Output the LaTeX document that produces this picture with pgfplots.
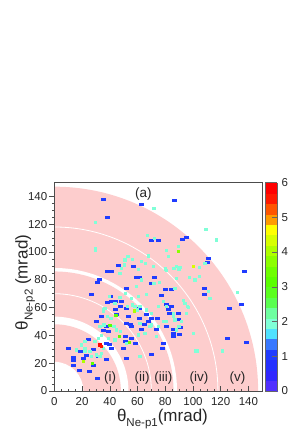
\documentclass[border=0pt]{standalone}
\usepackage{fontspec}
\setmainfont{Liberation Sans}
\usepackage{pgfplots}
\pgfplotsset{compat=1.18}
\definecolor{ringpink}{RGB}{253,205,205}
\pgfplotsset{colormap={rootpal}{
rgb255=(80,48,255) rgb255=(48,40,255) rgb255=(36,48,255) rgb255=(32,60,255)
rgb255=(56,120,255) rgb255=(80,225,255) rgb255=(128,255,215) rgb255=(110,255,160)
rgb255=(90,255,80) rgb255=(90,255,30) rgb255=(90,255,0) rgb255=(110,255,0)
rgb255=(140,255,0) rgb255=(175,255,0) rgb255=(215,255,0) rgb255=(255,255,0)
rgb255=(255,155,0) rgb255=(255,85,0) rgb255=(255,25,0) rgb255=(255,0,0)}}
\begin{document}
\begin{tikzpicture}
\useasboundingbox (-54.3pt,-41pt) rectangle (251.7pt,391pt);
\begin{axis}[
 at={(0,0)}, anchor=south west,
 scale only axis, width=208pt, height=208.5pt,
 xmin=0, xmax=150, ymin=0, ymax=150,
 xtick={0,20,...,140}, ytick={0,20,...,140},
 minor tick num=3,
 tick align=inside, tick pos=left,
 major tick length=5pt, minor tick length=2.5pt,
 every major y tick/.append style={xshift=-5pt},
 every minor y tick/.append style={xshift=-2.5pt},
 axis line style={black!70, line width=0.6pt},
 tick style={black!70, line width=0.5pt},
 ticklabel style={font=\fontsize{11.5}{13}\selectfont, text=black!85},
 /pgf/number format/assume math mode=true,
 yticklabel style={xshift=-3.5pt},
 xticklabel style={yshift=-3.3pt},
 xlabel={\fontsize{17}{20}\selectfont θ\raisebox{-5pt}{\fontsize{11.5}{13}\selectfont Ne-p1}(mrad)},
 ylabel={\fontsize{17}{20}\selectfont θ\raisebox{-5pt}{\fontsize{11.5}{13}\selectfont Ne-p2} (mrad)},
 xlabel style={at={(axis description cs:0.52,-0.088)}, anchor=north, inner sep=0pt, text=black!85},
 ylabel style={at={(axis description cs:-0.189,0.52)}, anchor=north, inner sep=0pt, text=black!85},
 axis on top,
 colorbar, colormap name=rootpal, colormap access=piecewise constant,
 point meta min=0, point meta max=6,
 colorbar style={
   at={(parent axis.south east)}, anchor=south west, xshift=-5.8pt,
   width=12pt,
   ytick={0,...,6}, minor tick num=0,
   ytick pos=right, yticklabel pos=right,
   tick align=inside, major tick length=5pt,
   axis line style={black!60}, tick style={black!60},
   yticklabel style={font=\fontsize{11.5}{13}\selectfont, xshift=1pt},
   /pgf/number format/assume math mode=true,
 },
 scatter/use mapped color={draw=mapped color, fill=mapped color},
]
\fill[ringpink] (axis cs:0,0) circle[radius=147];
\fill[white] (axis cs:0,0) circle[radius=88.5];
\fill[ringpink] (axis cs:0,0) circle[radius=86];
\fill[white] (axis cs:0,0) circle[radius=53.5];
\fill[ringpink] (axis cs:0,0) circle[radius=48];
\fill[white] (axis cs:0,0) circle[radius=21];
\draw[white, line width=0.8pt] (axis cs:0,0) circle[radius=70];
\draw[white, line width=0.8pt] (axis cs:0,0) circle[radius=118];

% counts = 1
\addplot[scatter, only marks, scatter src=explicit, mark=square*, mark size=1pt,
  mark options={xscale=2, line width=0pt}] table[meta=c] {
x y c
35.8 137.9 1
62.7 134.3 1
86.6 136.7 1
38.2 124.7 1
70.4 108.6 1
74.8 108.2 1
92.8 109.0 1
95.6 110.3 1
111.0 95.4 1
110.3 92.5 1
38.2 85.9 1
41.4 85.9 1
46.5 90.6 1
57.0 89.3 1
59.4 81.8 1
61.8 81.8 1
71.9 82.0 1
52.2 74.1 1
32.9 79.9 1
31.5 78.3 1
26.6 69.4 1
40.2 67.8 1
41.4 64.2 1
38.5 63.5 1
43.8 64.3 1
48.6 64.3 1
47.4 60.6 1
70.2 77.0 1
77.6 69.0 1
80.5 73.2 1
84.2 72.7 1
108.6 73.9 1
108.6 69.6 1
126.0 59.0 1
135.0 61.9 1
137.5 86.3 1
138.4 34.8 1
125.2 37.9 1
85.8 39.1 1
86.3 41.5 1
85.8 43.9 1
91.3 45.5 1
89.9 55.9 1
78.6 34.3 1
78.0 30.7 1
70.2 26.6 1
52.0 23.5 1
37.7 23.0 1
30.8 9.0 1
25.5 13.9 1
18.5 15.1 1
14.2 18.7 1
13.7 22.3 1
10.1 30.5 1
14.2 24.2 1
20.9 23.5 1
23.4 25.9 1
19.0 28.3 1
24.5 36.7 1
28.1 29.5 1
28.1 18.7 1
31.7 24.7 1
37.8 34.3 1
41.4 30.7 1
40.1 33.1 1
43.8 58.3 1
45.0 54.7 1
52.2 59.5 1
53.4 53.5 1
61.3 52.3 1
55.0 48.2 1
55.8 46.3 1
52.2 48.7 1
51.0 39.1 1
51.0 35.5 1
55.8 37.9 1
58.2 34.3 1
49.8 30.7 1
30.5 49.9 1
34.2 53.5 1
35.8 43.2 1
37.8 46.3 1
38.9 42.7 1
61.8 59.5 1
66.6 54.7 1
67.8 49.9 1
63.0 43.9 1
64.9 47.5 1
70.2 52.3 1
74.3 51.8 1
73.6 43.9 1
81.0 61.9 1
84.6 60.6 1
82.7 58.3 1
83.4 55.9 1
81.0 46.3 1
89.4 51.1 1
90.6 40.3 1
};

% counts >= 2
\addplot[scatter, only marks, scatter src=explicit, mark=square*, mark size=1.1pt,
  mark options={line width=0pt}] table[meta=c] {
x y c
29.8 121.1 2
30.0 102.6 2
30.0 101.0 2
71.9 131.4 2
72.1 109.8 2
67.3 112.0 2
109.4 116.3 2
117.1 108.6 2
89.4 103.8 2
80.8 101.2 2
82.2 96.6 2
67.8 97.1 2
50.5 90.6 2
51.0 94.2 2
56.5 94.7 2
53.1 96.6 2
60.6 87.5 2
63.0 93.0 2
65.9 91.8 2
48.6 88.2 2
47.4 84.7 2
63.0 79.9 2
71.4 89.4 2
71.9 77.5 2
75.7 77.9 2
80.3 87.8 2
81.0 86.5 2
88.2 89.4 2
89.9 87.5 2
86.3 88.0 2
90.6 89.0 2
104.5 89.0 2
108.7 91.9 2
97.3 81.5 2
101.4 79.9 2
104.6 82.3 2
88.2 81.1 2
87.0 73.9 2
93.0 65.0 2
95.9 60.6 2
94.2 63.1 2
96.6 60.2 2
95.4 55.9 2
91.8 49.9 2
89.9 46.3 2
88.2 43.9 2
87.0 51.1 2
85.8 55.9 2
85.8 53.5 2
81.0 60.7 2
78.6 64.3 2
75.0 60.7 2
70.2 55.9 2
66.6 58.3 2
61.8 60.7 2
59.9 58.3 2
58.2 60.7 2
56.5 61.9 2
52.6 60.7 2
55.8 66.7 2
60.6 67.9 2
59.4 75.1 2
66.6 69.5 2
51.2 70.3 2
47.4 67.1 2
39.7 67.9 2
43.8 63.1 2
36.6 59.5 2
35.3 58.3 2
35.3 57.0 2
38.2 53.5 2
40.9 52.3 2
32.9 46.3 2
35.8 47.5 2
43.0 46.3 2
45.0 43.9 2
47.8 42.7 2
43.8 36.7 2
38.9 37.9 2
34.1 39.8 2
52.2 34.3 2
60.6 40.3 2
65.4 41.5 2
69.0 46.3 2
70.2 47.5 2
61.8 48.7 2
73.8 39.1 2
75.0 46.3 2
78.6 49.9 2
81.0 49.9 2
100.2 41.5 2
102.2 28.8 2
103.4 28.8 2
121.4 28.8 2
111.0 71.4 2
112.3 66.7 2
132.0 71.0 2
16.1 29.5 2
19.7 33.1 2
22.1 30.7 2
22.1 28.3 2
25.7 28.3 2
26.9 24.7 2
30.5 25.9 2
32.9 24.7 2
34.1 27.1 2
35.3 30.7 2
29.3 35.5 2
31.7 37.9 2
22.1 35.5 2
61.8 24.7 2
89.8 100.2 3.7
100.2 89.4 4.3
57.8 57.5 4.0
40.2 47.2 3.2
44.5 54.2 3.0
47.2 39.4 3.0
54.1 34.8 3.3
20.9 21.1 4.0
27.7 19.9 3.0
32.9 33.1 6
34.1 31.9 5.5
};

\node[font=\fontsize{13.5}{15}\selectfont, text=black!85] at (axis cs:64.2,141.6) {(a)};
\node[font=\fontsize{13.5}{15}\selectfont, text=black!85] at (axis cs:40.2,9) {(i)};
\node[font=\fontsize{13.5}{15}\selectfont, text=black!85] at (axis cs:63.4,9) {(ii)};
\node[font=\fontsize{13.5}{15}\selectfont, text=black!85] at (axis cs:78.6,9) {(iii)};
\node[font=\fontsize{13.5}{15}\selectfont, text=black!85] at (axis cs:104.4,9) {(iv)};
\node[font=\fontsize{13.5}{15}\selectfont, text=black!85] at (axis cs:132.2,9) {(v)};
\end{axis}
\end{tikzpicture}
\end{document}
